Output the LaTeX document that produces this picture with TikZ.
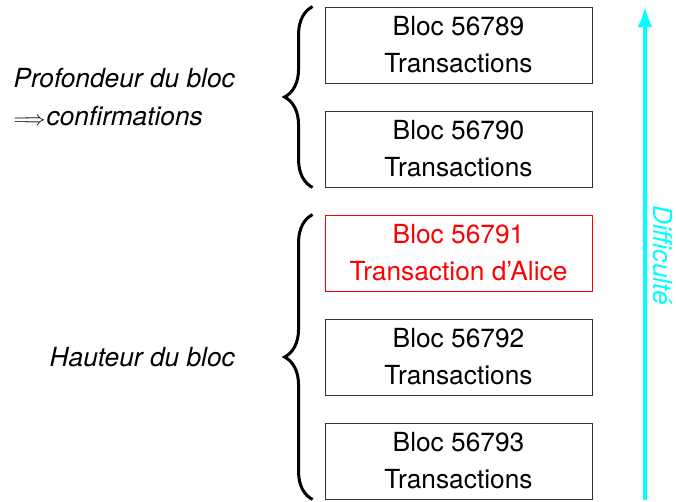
\documentclass[tikz,border=0pt]{standalone}
\usepackage{fontspec}
\setmainfont{TeX Gyre Heros}
\usetikzlibrary{arrows.meta,decorations.pathreplacing,calc}
\definecolor{purecyan}{RGB}{0,255,255}
\begin{document}
\begin{tikzpicture}[x=1pt,y=-1pt,
  bigfont/.style={font=\fontsize{26.3}{37}\selectfont},
  blockbox/.style={draw=black!80,line width=0.9pt,minimum width=267pt,minimum height=76pt,inner sep=0pt,align=center,bigfont},
  redbox/.style={blockbox,draw=red,text=red},
  bracestyle/.style={decorate,decoration={brace,amplitude=28pt},line width=3pt},
  sidetext/.style={inner sep=0pt,font=\fontsize{26.3}{38}\selectfont\itshape}
]
\useasboundingbox (0,0) rectangle (676,501);
\node[blockbox] (b1) at (458.5,45) {Bloc 56789\\Transactions};
\node[blockbox] (b2) at (458.5,149) {Bloc 56790\\Transactions};
\node[redbox] (b3) at (458.5,253) {Bloc 56791\\Transaction d’Alice};
\node[blockbox] (b4) at (458.5,357) {Bloc 56792\\Transactions};
\node[blockbox] (b5) at (458.5,461) {Bloc 56793\\Transactions};
\draw[bracestyle] ($(b2.south west)+(-12,0)$) -- ($(b1.north west)+(-12,0)$);
\draw[bracestyle] ($(b5.south west)+(-12,0)$) -- ($(b3.north west)+(-12,0)$);
\node[sidetext,anchor=east,align=left] (t1) at (235,97) {Profondeur du bloc\\{\fontsize{22}{22}\selectfont$\Longrightarrow$}\kern1pt confirmations};
\node[sidetext,anchor=east] (t2) at (235,357) {Hauteur du bloc};
\coordinate (abot) at (645,500);
\coordinate (atop) at (645,7);
\draw[purecyan,line width=3.3pt,-{Latex[length=20pt,width=15pt]}] (abot) -- (atop);
\node[sidetext,text=purecyan,rotate=-90] (diff) at (663,255) {Difficulté};
\end{tikzpicture}
\end{document}
